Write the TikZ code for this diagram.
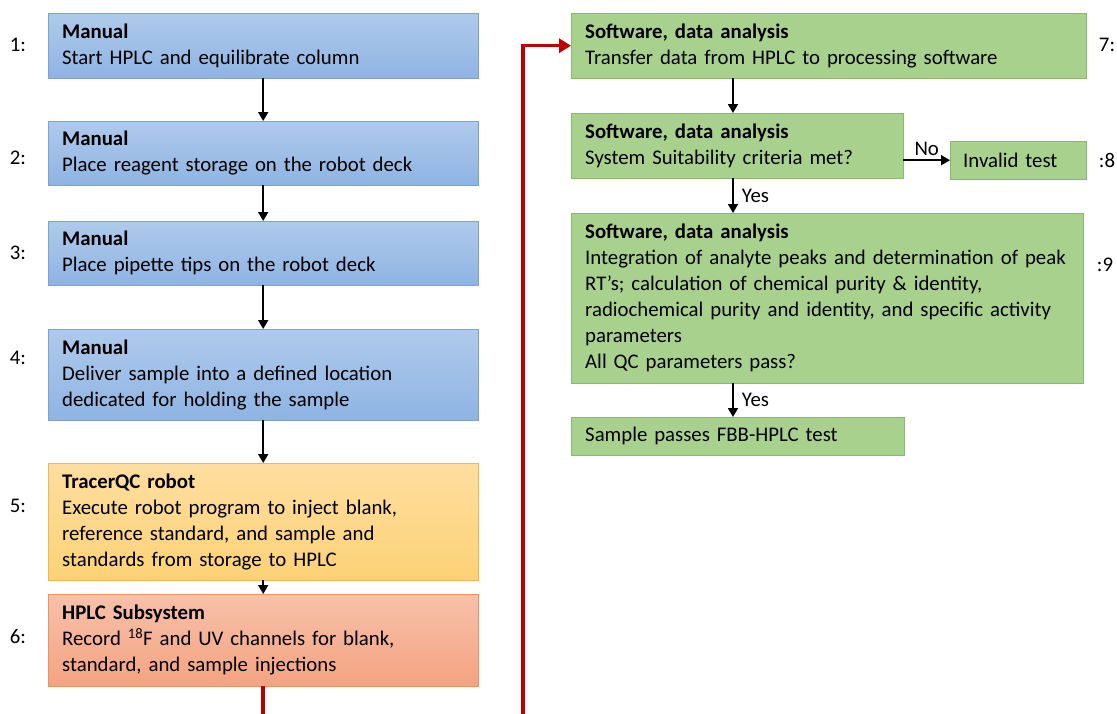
\documentclass[tikz,border=0pt]{standalone}
\usepackage{fontspec}
\setmainfont{Carlito}
\usetikzlibrary{arrows.meta}
\usetikzlibrary{positioning}

\definecolor{manualtop}{HTML}{AFCAEB}
\definecolor{manualbot}{HTML}{8EB4E3}
\definecolor{manualline}{HTML}{7EA2CF}
\definecolor{robottop}{HTML}{FEDEA0}
\definecolor{robotbot}{HTML}{FDD276}
\definecolor{robotline}{HTML}{F2B84A}
\definecolor{hplctop}{HTML}{F7C1AA}
\definecolor{hplcbot}{HTML}{F4A380}
\definecolor{hplcline}{HTML}{EE9160}
\definecolor{softfill}{HTML}{A9D18E}
\definecolor{softline}{HTML}{8AB86C}
\definecolor{loopred}{HTML}{C00000}

\begin{document}
\begin{tikzpicture}[
        x=1pt, y=-1pt,
        stepbox/.style={
            rectangle,
            draw,
            anchor=north west,
            align=left,
            inner xsep=14pt,
            inner ysep=4pt,
            font=\fontsize{20.8}{26}\selectfont,
        },
        manual/.style={stepbox, top color=manualtop, bottom color=manualbot, draw=manualline, text width=402pt},
        robot/.style={stepbox, top color=robottop, bottom color=robotbot, draw=robotline, text width=402pt},
        hplc/.style={stepbox, top color=hplctop, bottom color=hplcbot, draw=hplcline, text width=402pt},
        soft/.style={stepbox, fill=softfill, draw=softline},
        numlabel/.style={font=\fontsize{20.8}{26}\selectfont, inner sep=0pt},
        arr/.style={-{Triangle[width=10pt,length=9pt]}, line width=1.8pt},
        redarr/.style={-{Triangle[width=14pt,length=12pt]}, line width=3.5pt, draw=loopred},
    ]

    \useasboundingbox (0,0) rectangle (1117,713);

    % left column
    \node (m1) at (48,13) [manual, minimum height=65pt] {\textbf{Manual}\\Start HPLC and equilibrate column};
    \node (m2) at (48,121) [manual, minimum height=64pt] {\textbf{Manual}\\Place reagent storage on the robot deck};
    \node (m3) at (48,221) [manual, minimum height=64pt] {\textbf{Manual}\\Place pipette tips on the robot deck};
    \node (m4) at (48,329) [manual, minimum height=91pt] {\textbf{Manual}\\Deliver sample into a defined location\\dedicated for holding the sample};
    \node (r5) at (48,463) [robot, minimum height=117pt] {\textbf{TracerQC robot}\\Execute robot program to inject blank,\\reference standard, and sample and\\standards from storage to HPLC};
    \node (h6) at (48,594) [hplc, minimum height=92pt] {\textbf{HPLC Subsystem}\\Record \textsuperscript{18}F and UV channels for blank,\\standard, and sample injections};

    % right column
    \node (s7) at (571,13) [soft, text width=487pt, minimum height=65pt] {\textbf{Software, data analysis}\\Transfer data from HPLC to processing software};
    \node (s8) at (571,113) [soft, text width=304pt, minimum height=65pt] {\textbf{Software, data analysis}\\System Suitability criteria met?};
    \node (inv) at (950,141) [soft, inner xsep=13pt, text width=110pt, minimum height=38pt] {Invalid test};
    \node (s9) at (571,213) [soft, text width=484pt, minimum height=170pt] {\textbf{Software, data analysis}\\Integration of analyte peaks and determination of peak\\RT's; calculation of chemical purity \& identity,\\radiochemical purity and identity, and specific activity\\parameters\\All QC parameters pass?};
    \node (pass) at (571,417) [soft, text width=305pt, minimum height=38pt] {Sample passes FBB-HPLC test};

    % step numbers
    \node (n1) at (18,45) [numlabel] {1:};
    \node (n2) at (18,158) [numlabel] {2:};
    \node (n3) at (18,253) [numlabel] {3:};
    \node (n4) at (18,358) [numlabel] {4:};
    \node (n5) at (18,506) [numlabel] {5:};
    \node (n6) at (18,637) [numlabel] {6:};
    \node (n7) at (1107,45) [numlabel] {7:};
    \node (n8) at (1107,160) [numlabel] {:8};
    \node (n9) at (1105,265) [numlabel] {:9};

    \draw [arr] (m1) -- (m2);
    \draw [arr] (m2) -- (m3);
    \draw [arr] (m3) -- (m4);
    \draw [arr] (m4) -- (r5);
    \draw [arr] (r5) -- (h6);

    \draw [redarr] (h6.south) -- ++(0,40) -| ([xshift=-48pt]s7.west) -- (s7.west);

    \draw [arr] ([xshift=162pt]s7.south west) -- ([xshift=162pt]s8.north west);
    \draw [arr] (s8.east |- inv.west) -- node[above, numlabel, yshift=4pt] {No} (inv.west);
    \draw [arr] ([xshift=162pt]s8.south west) -- node[right, numlabel, xshift=8pt] {Yes} ([xshift=162pt]s9.north west);
    \draw [arr] ([xshift=162pt]s9.south west) -- node[right, numlabel, xshift=8pt] {Yes} ([xshift=162pt]pass.north west);

\end{tikzpicture}
\end{document}
